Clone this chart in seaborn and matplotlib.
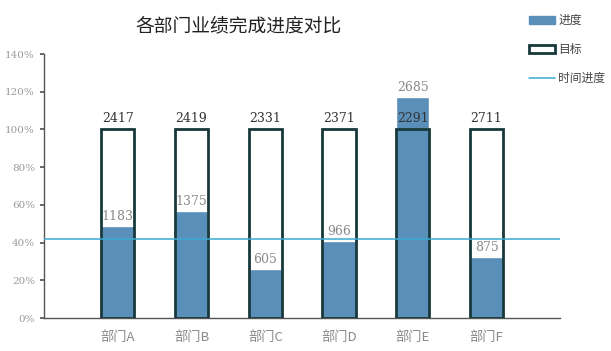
import matplotlib
matplotlib.use("Agg")
import matplotlib.pyplot as plt
import seaborn as sns
import pandas as pd
from matplotlib.patches import Patch
from matplotlib.lines import Line2D
from matplotlib.ticker import PercentFormatter

departments = ["部门A", "部门B", "部门C", "部门D", "部门E", "部门F"]
targets = [2417, 2419, 2331, 2371, 2291, 2711]
progress = [1183, 1375, 605, 966, 2685, 875]
time_progress = 0.42

df = pd.DataFrame({"dept": departments, "target": targets, "progress": progress})
df["target_pct"] = 1.0
df["progress_pct"] = df["progress"] / df["target"]

sns.set_theme(style="white")
plt.rcParams["font.family"] = ["DejaVu Serif", "Noto Sans CJK SC"]

fig = plt.figure(figsize=(6.11, 3.51), dpi=100)
ax = fig.add_axes([0.072, 0.094, 0.845, 0.752])

bar_color = "#5a8fba"
edge_color = "#17393b"
line_color = "#3aaad2"

sns.barplot(data=df, x="dept", y="progress_pct", color=bar_color, width=0.45,
            saturation=1, ax=ax, zorder=2)
sns.barplot(data=df, x="dept", y="target_pct", fill=False, color=edge_color,
            width=0.45, linewidth=2, ax=ax, zorder=3)
for p in ax.patches[len(departments):]:
    p.set_edgecolor(edge_color)
    p.set_facecolor("none")
    p.set_linewidth(2)

ax.axhline(time_progress, color=line_color, lw=1.1, zorder=4)

for i, (t, pv, pp) in enumerate(zip(df["target"], df["progress"], df["progress_pct"])):
    ax.text(i, 1.0 + 0.025, str(t), ha="center", va="bottom", fontsize=9,
            color="#333333", zorder=5, family="DejaVu Serif")
    ax.text(i, pp + 0.015, str(pv), ha="center", va="bottom", fontsize=9,
            color="#8a8a8a", zorder=5, family="DejaVu Serif")

ax.set_ylim(0, 1.4)
ax.set_xlim(-1, 6)
ax.set_yticks([0, 0.2, 0.4, 0.6, 0.8, 1.0, 1.2, 1.4])
ax.yaxis.set_major_formatter(PercentFormatter(1.0, decimals=0))
ax.set_xlabel("")
ax.set_ylabel("")
for s in ["top", "right"]:
    ax.spines[s].set_visible(False)
for s in ["left", "bottom"]:
    ax.spines[s].set_color("#555555")
    ax.spines[s].set_linewidth(1)
ax.tick_params(axis="y", left=True, length=3, color="#555555", labelsize=7.5,
               labelcolor="#999999")
ax.tick_params(axis="x", bottom=False, labelsize=9.5, labelcolor="#888888")
for lab in ax.get_xticklabels():
    lab.set_family(["Noto Sans CJK SC"])
for lab in ax.get_yticklabels():
    lab.set_family(["DejaVu Serif"])

fig.text(0.39, 0.928, "各部门业绩完成进度对比", ha="center", va="center",
         fontsize=13.5, color="#222222", family=["Noto Sans CJK SC"])

handles = [
    Patch(facecolor=bar_color, edgecolor=bar_color, label="进度"),
    Patch(facecolor="white", edgecolor=edge_color, linewidth=2, label="目标"),
    Line2D([0], [0], color=line_color, lw=1.1, label="时间进度"),
]
leg = fig.legend(handles=handles, loc="upper left", bbox_to_anchor=(0.848, 0.99),
                 frameon=False, prop={"family": "Noto Sans CJK SC", "size": 8.5},
                 labelspacing=1.35, handlelength=2.2, handletextpad=0.3,
                 handleheight=0.6)
for t in leg.get_texts():
    t.set_color("#444444")

fig.savefig("out.png", dpi=100, facecolor="white")
